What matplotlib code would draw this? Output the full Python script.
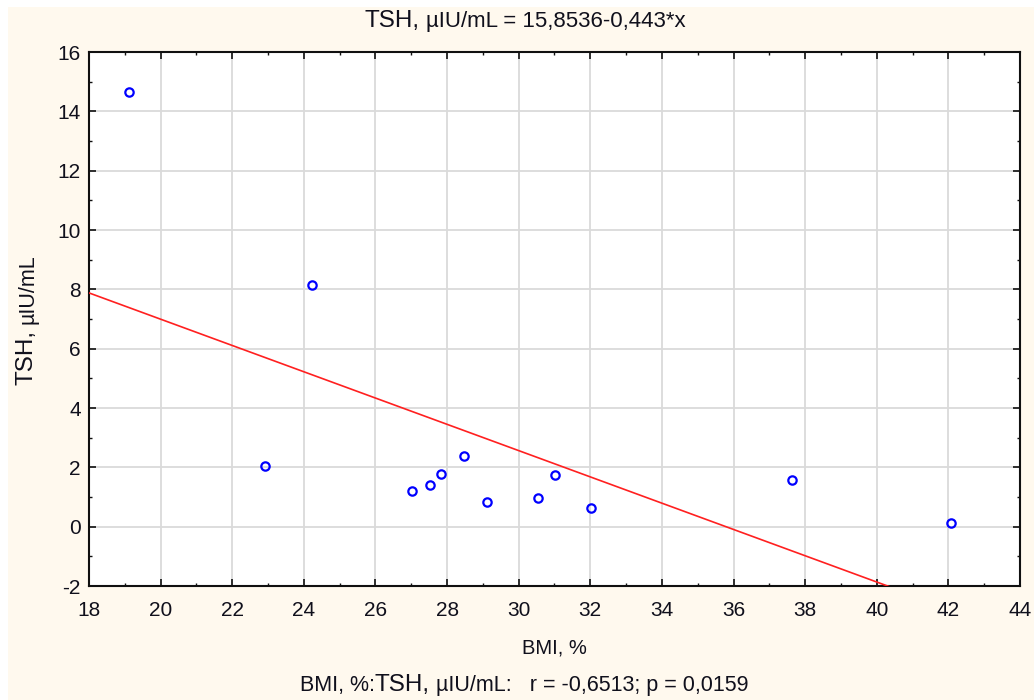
import numpy as np
import matplotlib
matplotlib.use('Agg')
from matplotlib import pyplot as plt
from matplotlib.patches import Rectangle
from matplotlib.ticker import MultipleLocator
import matplotlib.transforms as mtransforms

plt.rcParams['font.family'] = ['Liberation Sans', 'DejaVu Sans']
plt.rcParams['axes.unicode_minus'] = False

# data
bmi = [19.12, 22.92, 24.23, 27.02, 27.53, 27.83, 28.46, 29.11, 30.53, 31.02, 32.02, 37.64, 42.06]
tsh = [14.65, 2.05, 8.15, 1.20, 1.41, 1.79, 2.38, 0.82, 0.98, 1.73, 0.62, 1.57, 0.13]
intercept = 15.8536
slope = -0.443
x_ticks = np.arange(18, 45, 2)
y_ticks = np.arange(-2, 17, 2)

txt_col = '#10101c'
W, H = 1034, 700

fig = plt.figure(figsize=(W / 100, H / 100), dpi=100, facecolor='white')
fig.patches.append(Rectangle((8 / W, 0), 1, 1 - 7 / H, transform=fig.transFigure,
                             facecolor='#fff9ee', edgecolor='none', zorder=-10))

ax = fig.add_axes([89 / W, 1 - 586 / H, (1020 - 89) / W, (586 - 52) / H])
ax.set_facecolor('white')
ax.set_zorder(1)

xl = np.array([18, 44])
ax.plot(xl, intercept + slope * xl, color='#ff2020', lw=1.2, zorder=3)
ax.plot(bmi, tsh, 'o', mfc='none', mec='#0000ff', ms=6, mew=1.6, zorder=4)

ax.set_xlim(18, 44)
ax.set_ylim(-2, 16)
ax.set_xticks(x_ticks)
ax.set_yticks(y_ticks)
ax.xaxis.set_minor_locator(MultipleLocator(1))
ax.yaxis.set_minor_locator(MultipleLocator(1))
ax.grid(True, which='major', color='#dadada', lw=1.3)
ax.set_axisbelow(True)
for s in ax.spines.values():
    s.set_linewidth(1.5)
    s.set_color('#101010')
ax.tick_params(which='both', direction='in', top=True, right=True, color='#101010')
ax.tick_params(which='major', length=5, width=1.2, labelsize=15, labelcolor=txt_col)
ax.tick_params(which='minor', length=2.5, width=1)
ax.tick_params(axis='x', pad=11)
ax.tick_params(axis='y', pad=6)

fig.text(554 / W, 1 - 648 / H, 'BMI, %', ha='center', va='center', fontsize=14.5, color=txt_col)


def mixed(parts, cx, cy, rotation=0):
    # parts: (text, size, gap before in px); cx, cy: pixel centre of the baseline
    r = fig.canvas.get_renderer()
    objs, lens = [], []
    for s, fs, gap in parts:
        t = fig.text(0, 0, s, fontsize=fs, ha='left', va='baseline', color=txt_col,
                     transform=mtransforms.IdentityTransform())
        lens.append(t.get_window_extent(r).width)
        objs.append(t)
    total = sum(lens) + sum(p[2] for p in parts)
    pos = -total / 2
    for t, l, p in zip(objs, lens, parts):
        pos += p[2]
        if rotation == 0:
            t.set_position((cx + pos, cy))
        else:
            t.set_rotation(90)
            t.set_rotation_mode('anchor')
            t.set_position((cx, cy + pos))
        pos += l


mixed([('TSH,', 17.5, 0), ('µIU/mL = 15,8536-0,443*x', 16, 6)], 525, H - 27.5)
mixed([('BMI, %:', 15.5, 0), ('TSH,', 17.5, 0), ('µIU/mL:   r = -0,6513; p = 0,0159', 15.5, 6)], 524, H - 690.5)
mixed([('TSH,', 17.5, 0), ('µIU/mL', 15.5, 6)], 33, H - 320, rotation=90)

fig.savefig('out.png', dpi=100, facecolor=fig.get_facecolor())
